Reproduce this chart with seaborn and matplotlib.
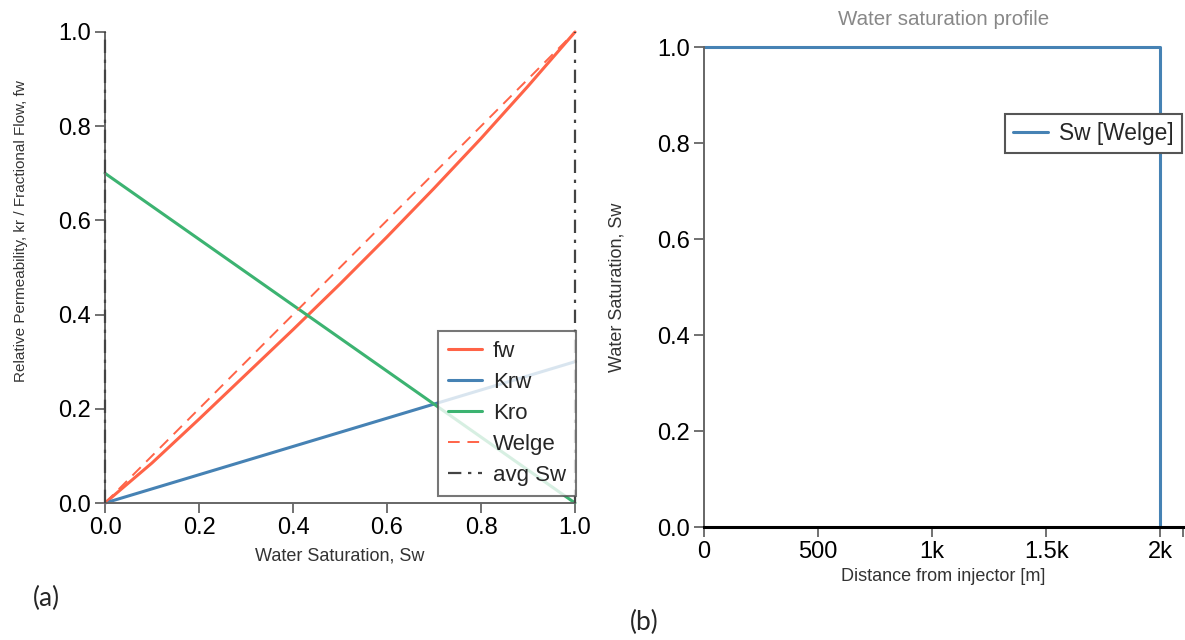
import matplotlib
matplotlib.use("Agg")
import matplotlib.pyplot as plt
import seaborn as sns
import numpy as np
import pandas as pd
from matplotlib.ticker import FuncFormatter

# ---- data ----
sw = [0.0, 0.1, 0.2, 0.3, 0.4, 0.5, 0.6, 0.7, 0.8, 0.9, 1.0]
fw = [0.0, 0.085, 0.178, 0.273, 0.368, 0.465, 0.565, 0.668, 0.774, 0.885, 1.0]
krw = [0.0, 0.03, 0.06, 0.09, 0.12, 0.15, 0.18, 0.21, 0.24, 0.27, 0.30]
kro = [0.70, 0.63, 0.56, 0.49, 0.42, 0.35, 0.28, 0.21, 0.14, 0.07, 0.0]
welge_x = [0.0, 1.0]
welge_y = [0.0, 1.0]
avg_sw = [0.0, 1.0]

dist = [0, 2000, 2000]
sw_profile = [1.0, 1.0, 0.0]
dist_ticks = [0, 500, 1000, 1500, 2000]

sns.set_style("ticks")
plt.rcParams['font.family'] = ['Liberation Sans', 'DejaVu Sans']

C_FW = "#ff6347"
C_KRW = "#4682b4"
C_KRO = "#3cb371"
C_AX = "#666666"

fig = plt.figure(figsize=(11.85, 6.4), dpi=100)
ax1 = fig.add_axes([105/1185, 1-503/640, 470/1185, 471/640])
ax2 = fig.add_axes([704/1185, 1-527/640, (1183-704)/1185, 480/640])

# ---- left panel ----
sns.lineplot(x=sw, y=fw, ax=ax1, color=C_FW, lw=2.2, label="fw", clip_on=False)
sns.lineplot(x=sw, y=krw, ax=ax1, color=C_KRW, lw=2.2, label="Krw", clip_on=False)
sns.lineplot(x=sw, y=kro, ax=ax1, color=C_KRO, lw=2.2, label="Kro", clip_on=False)
sns.lineplot(x=welge_x, y=welge_y, ax=ax1, color=C_FW, lw=1.4, ls=(0, (6, 4)),
             label="Welge", clip_on=False)
for i, v in enumerate(avg_sw):
    ax1.vlines(v, 0, 1, colors="#444444", linestyles=(0, (6, 3, 1.5, 3)), lw=1.6,
               label="avg Sw" if i == 0 else None, clip_on=False, zorder=3)

ax1.set_xlim(0, 1)
ax1.set_ylim(0, 1)
ax1.set_xticks([0, 0.2, 0.4, 0.6, 0.8, 1.0])
ax1.set_yticks([0, 0.2, 0.4, 0.6, 0.8, 1.0])
ax1.xaxis.set_major_formatter(FuncFormatter(lambda v, p: f"{v:.1f}"))
ax1.yaxis.set_major_formatter(FuncFormatter(lambda v, p: f"{v:.1f}"))
ax1.set_xlabel("Water Saturation, Sw", fontsize=13, color="#333333", labelpad=6)
ax1.set_ylabel("Relative Permeability, kr / Fractional Flow, fw", fontsize=11,
               color="#333333", labelpad=22)
ax1.yaxis.label.set_y(0.577)
sns.despine(ax=ax1)
for s in ["left", "bottom"]:
    ax1.spines[s].set_color(C_AX)
    ax1.spines[s].set_linewidth(1.4)
ax1.tick_params(axis="both", colors=C_AX, labelcolor="black", labelsize=17,
                length=7, width=1.3, pad=3)
leg1 = ax1.legend(loc="lower right", bbox_to_anchor=(1.002, 0.015), fontsize=16,
                  frameon=True, fancybox=False, edgecolor="#555555", framealpha=0.8,
                  borderaxespad=0.0, handlelength=1.5, handletextpad=0.5,
                  borderpad=0.45, labelspacing=0.45)
leg1.get_frame().set_linewidth(1.5)

# ---- right panel ----
sns.lineplot(x=dist, y=sw_profile, ax=ax2, color=C_KRW, lw=2.2, estimator=None,
             sort=False, label="Sw [Welge]", clip_on=False)
ax2.set_xlim(0, 2100)
ax2.set_ylim(0, 1)
ax2.set_xticks(dist_ticks)
ax2.set_xticks([2100], minor=True)
ax2.set_yticks([0, 0.2, 0.4, 0.6, 0.8, 1.0])
ax2.xaxis.set_major_formatter(
    FuncFormatter(lambda v, p: "0" if v == 0 else (f"{v/1000:g}k" if v >= 1000 else f"{v:g}")))
ax2.yaxis.set_major_formatter(FuncFormatter(lambda v, p: f"{v:.1f}"))
ax2.set_xlabel("Distance from injector [m]", fontsize=13, color="#333333", labelpad=4)
ax2.set_ylabel("Water Saturation, Sw", fontsize=13, color="#333333", labelpad=23)
ax2.set_title("Water saturation profile", fontsize=14.8, color="#888888", pad=16)
sns.despine(ax=ax2)
ax2.spines["left"].set_color(C_AX)
ax2.spines["left"].set_linewidth(1.4)
ax2.spines["bottom"].set_color("black")
ax2.spines["bottom"].set_linewidth(2.2)
ax2.tick_params(axis="both", colors=C_AX, labelcolor="black", labelsize=17,
                length=7, width=1.3, pad=3)
ax2.tick_params(axis="x", which="minor", colors=C_AX, length=7, width=1.3)
leg2 = ax2.legend(loc="upper right", bbox_to_anchor=(0.997, 0.86), fontsize=16.4,
                  frameon=True, fancybox=False, edgecolor="#555555", framealpha=1,
                  borderaxespad=0.0, handlelength=1.5, borderpad=0.35,
                  handletextpad=0.5)
leg2.get_frame().set_linewidth(1.5)

fig.text(33/1185, 1-598/640, "(a)", fontsize=19, family=["Lato", "DejaVu Sans"],
         va="center")
fig.text(630/1185, 1-622/640, "(b)", fontsize=19, family=["Lato", "DejaVu Sans"],
         va="center")

fig.savefig("out.png", dpi=100)
